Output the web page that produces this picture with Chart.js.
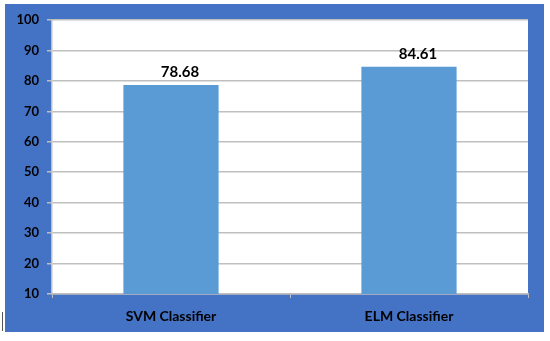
<!DOCTYPE html>
<html lang="en">
<head>
    <meta charset="UTF-8">
    <title>Classifier accuracy</title>
    <script src="https://cdn.jsdelivr.net/npm/chart.js"></script>
    <style>
        body { margin: 0; background: #fff; }
        #painel { position: absolute; left: 5px; top: 4px; width: 539px; height: 328px; background: #4472C4; }
        #risco { position: absolute; left: 2px; top: 312px; width: 1px; height: 19px; background: #555; }
    </style>
</head>
<body>
    <div id="risco"></div>
    <div id="painel">
        <canvas id="grafico1" width="539" height="328"></canvas>
    </div>

    <script>
        // dados
        const categorias = ['SVM Classifier', 'ELM Classifier']
        const acuracia = [78.68, 84.61]
        const yTicks = [10, 20, 30, 40, 50, 60, 70, 80, 90, 100]

        const fonte = 'Lato, "Open Sans", sans-serif'

        // fundo branco so na area do grafico
        const fundoArea = {
            id: 'fundoArea',
            beforeDraw(chart) {
                const a = chart.chartArea
                const c = chart.ctx
                c.save()
                c.fillStyle = '#ffffff'
                c.fillRect(a.left, a.top, a.right - a.left, a.bottom - a.top)
                c.restore()
            }
        }

        // rotulos de valor em cima das barras
        const rotulos = {
            id: 'rotulos',
            afterDatasetsDraw(chart) {
                const c = chart.ctx
                const meta = chart.getDatasetMeta(0)
                c.save()
                c.font = 'bold 15px ' + fonte
                c.fillStyle = '#000'
                c.textAlign = 'center'
                c.textBaseline = 'bottom'
                meta.data.forEach((bar, i) => {
                    c.fillText(acuracia[i].toFixed(2), bar.x + 9, bar.y - 5)
                })
                c.restore()
            }
        }

        const ctx = document.getElementById('grafico1')
        new Chart(ctx, {
            type: 'bar',
            data: {
                labels: categorias,
                datasets: [{
                    data: acuracia,
                    backgroundColor: '#5B9BD5',
                    borderWidth: 0,
                    categoryPercentage: 0.8,
                    barPercentage: 0.5
                }]
            },
            options: {
                responsive: false,
                animation: false,
                layout: { padding: { top: 16, right: 16, bottom: 0, left: 0 } },
                plugins: { legend: { display: false }, tooltip: { enabled: false } },
                scales: {
                    y: {
                        min: 10,
                        max: 100,
                        afterBuildTicks: s => { s.ticks = yTicks.map(v => ({ value: v })) },
                        afterFit: s => { s.width = 47 },
                        ticks: { color: '#000', padding: 8, font: { family: fonte, size: 13, weight: 'bold' } },
                        grid: { color: '#BFBFBF', tickLength: 5, lineWidth: 1.5 },
                        border: { color: '#BFBFBF', width: 1.5 }
                    },
                    x: {
                        afterFit: s => { s.height = 38 },
                        ticks: { color: '#000', padding: 10, font: { family: fonte, size: 14, weight: 'bold' } },
                        grid: { drawOnChartArea: false, offset: true, color: '#BFBFBF', tickLength: 4 },
                        border: { color: '#BFBFBF', width: 1.5 }
                    }
                }
            },
            plugins: [fundoArea, rotulos]
        })
    </script>
</body>
</html>
